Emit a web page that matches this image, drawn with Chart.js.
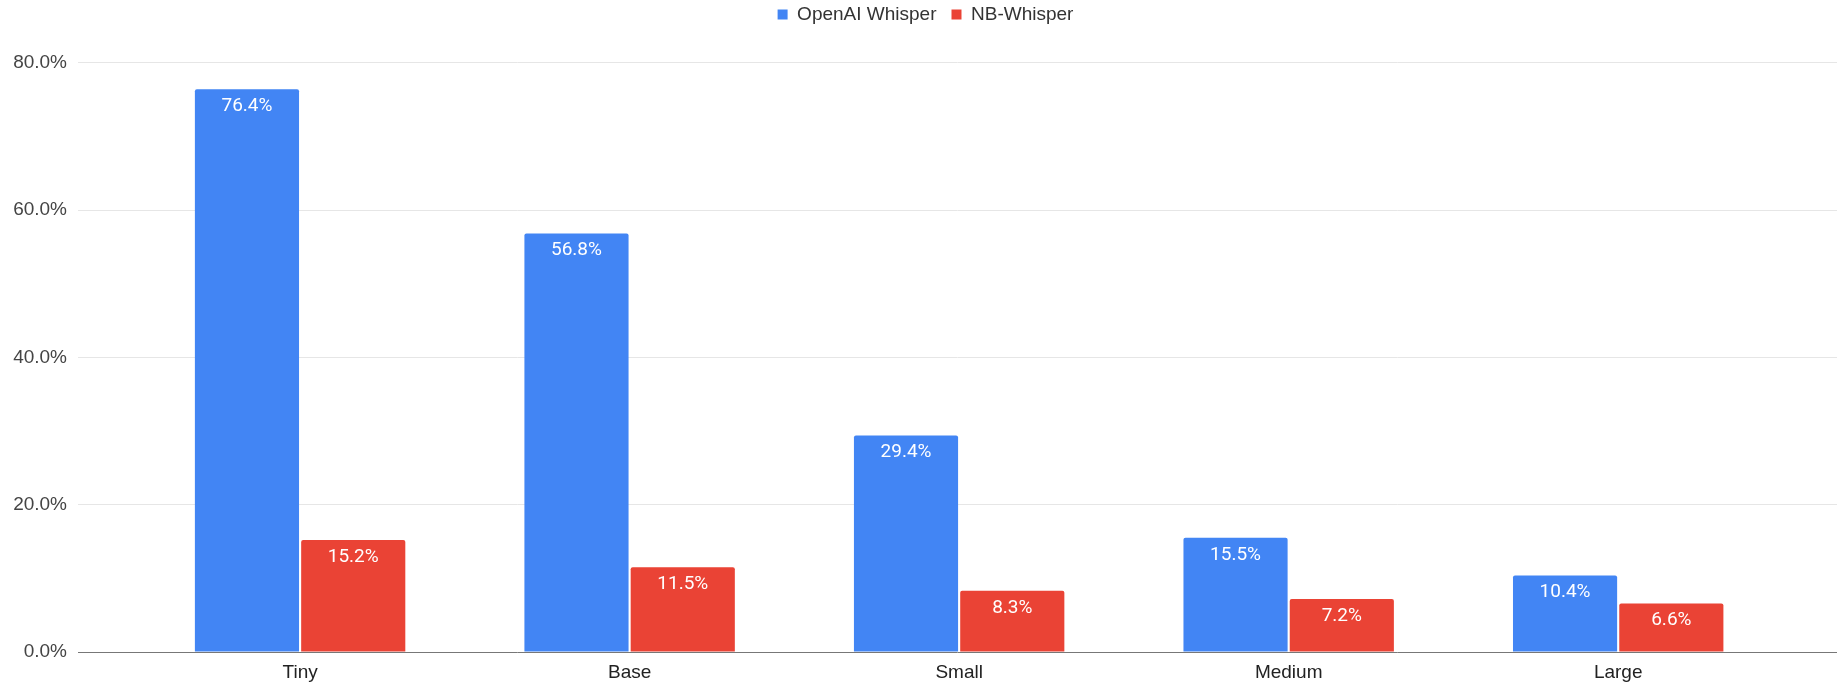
<!DOCTYPE html>
<html>
<head>
<meta charset="utf-8">
<script src="https://cdn.jsdelivr.net/npm/chart.js@4"></script>
<style>
  html, body { margin: 0; padding: 0; background: #fff; }
  #wrap { width: 1839px; height: 684px; }
</style>
</head>
<body>
<div id="wrap"><canvas id="chart"></canvas></div>
<script>
const categories = ["Tiny", "Base", "Small", "Medium", "Large"];
const openaiWhisper = [76.4, 56.8, 29.4, 15.5, 10.4];
const nbWhisper = [15.2, 11.5, 8.3, 7.2, 6.6];
const yMax = 80;
const yStep = 20;

const axisFont = "'Liberation Sans', Arial, sans-serif";

// value labels inside the top of each bar
const barLabels = {
  id: "barLabels",
  afterDatasetsDraw(chart) {
    const c = chart.ctx;
    c.save();
    c.font = "19px Roboto";
    c.fillStyle = "#fff";
    c.textAlign = "center";
    c.textBaseline = "middle";
    chart.data.datasets.forEach((ds, i) => {
      chart.getDatasetMeta(i).data.forEach((bar, j) => {
        c.fillText(ds.data[j].y.toFixed(1) + "%", bar.x, bar.y + 17);
      });
    });
    c.restore();
  }
};

// make the legend box taller so the plot starts lower, nudge it right a bit
const legendHeight = {
  id: "legendHeight",
  beforeLayout(chart) {
    const lg = chart.legend;
    if (lg && !lg._patched) {
      const fit = lg.fit;
      lg.fit = function () { fit.call(this); this.height = 72.7; };
      lg._patched = true;
    }
  },
  afterLayout(chart) {
    chart.legend.left += 7;
    chart.legend.right += 7;
  }
};

const toPoints = arr => arr.map((v, i) => ({ x: i, y: v }));

const chart = new Chart(document.getElementById("chart"), {
  type: "bar",
  data: {
    datasets: [
      { label: "OpenAI Whisper", data: toPoints(openaiWhisper), backgroundColor: "#4285F4" },
      { label: "NB-Whisper", data: toPoints(nbWhisper), backgroundColor: "#EA4335" }
    ]
  },
  options: {
    responsive: true,
    maintainAspectRatio: false,
    animation: false,
    layout: { padding: { top: -10, right: 2, left: 0, bottom: 0 } },
    datasets: {
      bar: {
        categoryPercentage: 0.645,
        barPercentage: 0.98,
        borderRadius: { topLeft: 2, topRight: 2 }
      }
    },
    plugins: {
      tooltip: { enabled: false },
      legend: {
        position: "top",
        labels: {
          boxWidth: 10,
          boxHeight: 10,
          padding: 15,
          color: "#333",
          font: { family: axisFont, size: 19 }
        }
      }
    },
    scales: {
      x: {
        type: "linear",
        offset: false,
        min: -0.674,
        max: 4.664,
        grid: { display: false, drawTicks: false, offset: false },
        border: { display: false },
        afterBuildTicks(scale) {
          scale.ticks = categories.map((_, i) => ({ value: i }));
        },
        afterFit(scale) { scale.height = 32; },
        ticks: {
          autoSkip: false,
          maxRotation: 0,
          padding: 9,
          color: "#222",
          font: { family: axisFont, size: 19 },
          callback: v => categories[v]
        }
      },
      y: {
        min: 0,
        max: yMax,
        afterFit(scale) { scale.width = 78; },
        border: { display: false },
        grid: {
          drawTicks: false,
          color: ctx => ctx.tick.value === 0 ? "#777" : "#e6e6e6"
        },
        ticks: {
          stepSize: yStep,
          padding: 11,
          color: "#444",
          font: { family: axisFont, size: 19 },
          callback: v => v.toFixed(1) + "%"
        }
      }
    }
  },
  plugins: [barLabels, legendHeight]
});
</script>
</body>
</html>
